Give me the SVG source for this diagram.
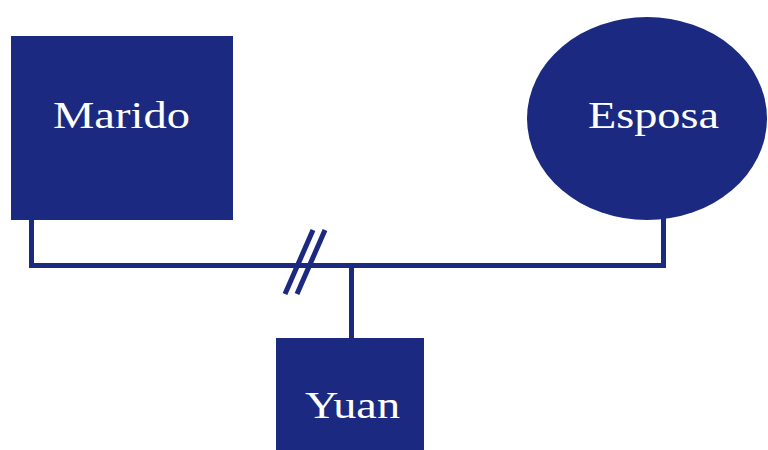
<svg xmlns="http://www.w3.org/2000/svg" width="768" height="450" viewBox="0 0 768 450">
<style>
.shape{fill:#1b2a80}
.lbl{fill:#ffffff;font-family:"Liberation Serif","Times New Roman",serif;font-size:37px}
.ln{stroke:#1b2a80;stroke-width:5;fill:none}
</style>
<rect width="768" height="450" fill="#ffffff"/>
<g id="connectors">
<polyline class="ln" points="31.5,218 31.5,265.5 663.5,265.5 663.5,215"/>
<line class="ln" x1="351.5" y1="265.5" x2="351.5" y2="340"/>
<line class="ln" x1="313" y1="230" x2="285" y2="294" stroke-width="5.5"/>
<line class="ln" x1="325" y1="230" x2="297" y2="294" stroke-width="5.5"/>
</g>
<g id="marido">
<rect class="shape" x="11" y="36" width="222" height="184"/>
<text class="lbl" x="53" y="128" textLength="137" lengthAdjust="spacingAndGlyphs">Marido</text>
</g>
<g id="esposa">
<ellipse class="shape" cx="647" cy="118.5" rx="120" ry="101.5"/>
<text class="lbl" x="588" y="128" textLength="131" lengthAdjust="spacingAndGlyphs">Esposa</text>
</g>
<g id="yuan">
<rect class="shape" x="276" y="338" width="148" height="112"/>
<text class="lbl" x="305" y="418" textLength="95" lengthAdjust="spacingAndGlyphs">Yuan</text>
</g>
</svg>
